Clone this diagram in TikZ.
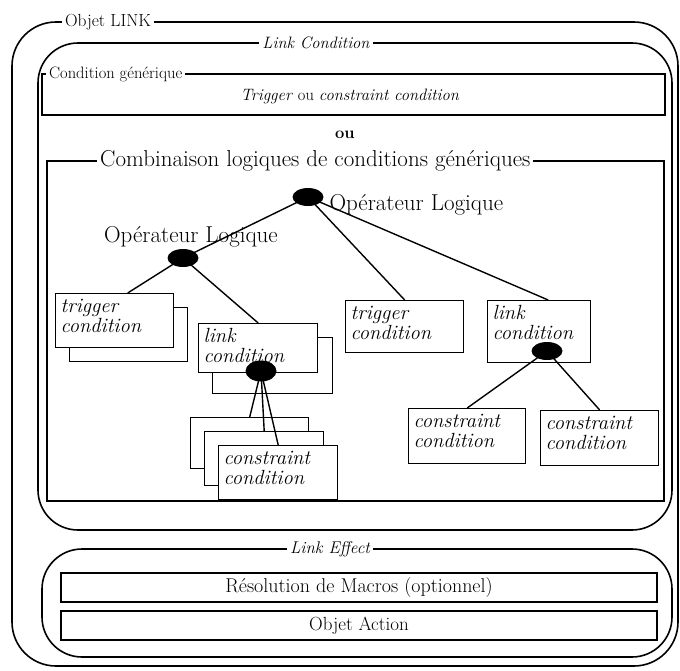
\documentclass[tikz,border=0pt]{standalone}
\usepackage{fontspec}
\usepackage{tikz}
\usetikzlibrary{shapes.geometric}

\newcommand{\boxlines}[3]{\parbox[t][#1][t]{#2}{#3}}

\tikzset{
  frame/.style={draw, line width=1.6pt, rounded corners=40pt},
  tag/.style={fill=white, inner xsep=3pt, inner ysep=0pt},
  plain/.style={draw, line width=1.4pt},
  backbox/.style={draw, line width=1.4pt, fill=white, anchor=north west, inner sep=0pt},
  condbox/.style={draw, line width=1.4pt, fill=white, anchor=north west, inner sep=5pt,
    font=\fontsize{20.5}{20}\selectfont\itshape},
  op/.style={ellipse, fill=black, inner sep=0pt, minimum width=31pt, minimum height=18pt},
  link/.style={line width=1.4pt},
  bar/.style={draw, line width=1.4pt, minimum width=596pt, minimum height=29pt, inner sep=1pt},
}

\begin{document}
\begin{tikzpicture}[x=1pt, y=-1pt]
    \useasboundingbox (0,0) rectangle (680,670);

    % Objet LINK
    \draw[frame, rounded corners=44pt] (12,22) rectangle (678,666);
    \node[tag, font=\fontsize{17.5}{18}\selectfont] (objlink) at (108,22) {Objet LINK};

    % Link Condition
    \draw[frame] (38,43) rectangle (672,530);
    \node[tag, font=\fontsize{16.5}{18}\selectfont\itshape] (linkcond) at (316,43) {Link Condition};

    % generic condition
    \draw[plain] (42,74) rectangle (665,115);
    \node[tag, anchor=west, font=\fontsize{16.5}{18}\selectfont] (generic) at (46,74) {Condition générique};
    \node[font=\fontsize{16.5}{18}\selectfont] (trigcons) at (350,96) {\textit{Trigger} ou \textit{constraint condition}};
    \node[font=\fontsize{16.5}{18}\selectfont\bfseries] (ou) at (345,135) {ou};

    % logical combination
    \draw[plain] (47,161) rectangle (664,501);
    \node[tag, anchor=west, font=\fontsize{23}{24}\selectfont] (combi) at (97,161) {Combinaison logiques de conditions génériques};

    % operators
    \coordinate (opTop) at (308,197);
    \coordinate (opLeft) at (183,258);
    \coordinate (opIn) at (261,371);
    \coordinate (opRight) at (547,351);
    \node[anchor=west, font=\fontsize{23}{24}\selectfont] (opTopLbl) at (326,205) {Opérateur Logique};
    \node[font=\fontsize{23}{24}\selectfont] (opLeftLbl) at (191,237) {Opérateur Logique};

    % trigger condition (stacked)
    \node[backbox, minimum width=118pt, minimum height=54pt] (trigBack) at (69,307) {};
    \node[condbox] (trigA) at (55,293) {\boxlines{44pt}{108pt}{trigger\\condition}};

    % link condition (stacked)
    \node[backbox, minimum width=120pt, minimum height=56pt] (linkBack) at (212,337) {};
    \node[condbox] (linkA) at (198,323) {\boxlines{39pt}{109pt}{link\\condition}};

    % constraint conditions (stacked)
    \node[backbox, minimum width=118pt, minimum height=51pt] (cstrA) at (190,417) {};
    \node[backbox, minimum width=119pt, minimum height=54pt] (cstrB) at (204,431) {};
    \node[condbox] (cstrC) at (218,445) {\boxlines{44pt}{109pt}{constraint\\condition}};

    % single conditions
    \node[condbox] (trigB) at (345,300) {\boxlines{42pt}{108pt}{trigger\\condition}};
    \node[condbox] (linkB) at (487,300) {\boxlines{52pt}{93pt}{link\\condition}};
    \node[condbox] (cstrL) at (408,408) {\boxlines{45pt}{107pt}{constraint\\condition}};
    \node[condbox] (cstrR) at (540,410) {\boxlines{45pt}{108pt}{constraint\\condition}};

    % tree
    \draw[link] (opTop) -- (opLeft);
    \draw[link] (opTop) -- (trigB.north);
    \draw[link] (opTop) -- ([xshift=9pt]linkB.north);
    \draw[link] (opLeft) -- ([xshift=13pt]trigA.north);
    \draw[link] (opLeft) -- (linkA.north);
    \foreach \c in {cstrA,cstrB,cstrC}
        \draw[link] (opIn) -- (\c.north);
    \draw[link] (opRight) -- (cstrL.north);
    \draw[link] (opRight) -- (cstrR.north);

    \node[op] (opTopDot) at (opTop) {};
    \node[op] (opLeftDot) at (opLeft) {};
    \node[op, minimum height=21pt] (opInDot) at (opIn) {};
    \node[op] (opRightDot) at (opRight) {};

    % Link Effect
    \draw[frame] (42,549) rectangle (672,657);
    \node[tag, font=\fontsize{17}{18}\selectfont\itshape] (effect) at (330,549) {Link Effect};
    \node[bar, font=\fontsize{20}{21}\selectfont] (macros) at (359,587.5) {Résolution de Macros (optionnel)};
    \node[bar, font=\fontsize{19}{20}\selectfont] (action) at (359,625.5) {Objet Action};

\end{tikzpicture}
\end{document}
